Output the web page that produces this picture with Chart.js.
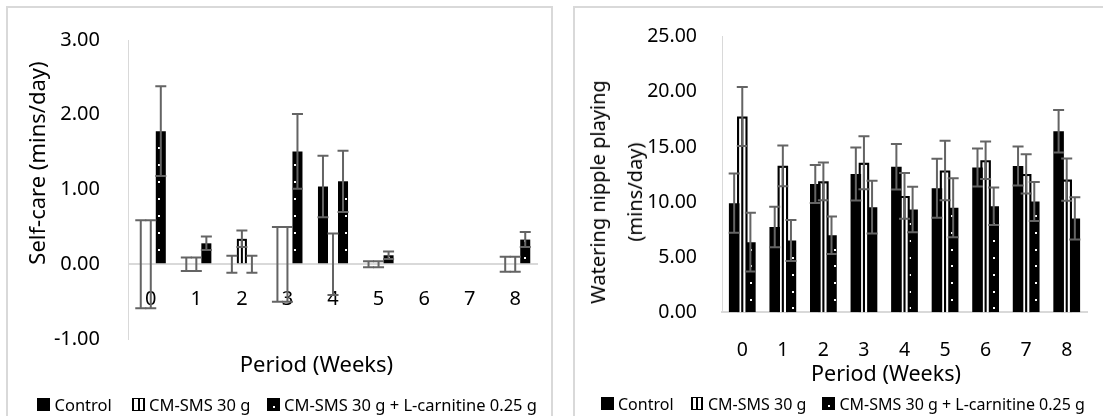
<!DOCTYPE html>
<html>
<head>
<meta charset="utf-8">
<script src="https://cdn.jsdelivr.net/npm/chart.js@4.4.1/dist/chart.umd.min.js"></script>
<style>
html,body{margin:0;padding:0;background:#fff;width:1103px;height:416px;overflow:hidden;font-family:"Noto Sans",sans-serif;color:#000}
.panel{position:absolute;border:2px solid #d9d9d9;box-sizing:border-box;background:#fff}
canvas{position:absolute;top:0}
.t{position:absolute;white-space:nowrap;line-height:1;color:#000}
.c{transform:translate(-50%,-50%)}
.lg{transform:translateY(-50%);font-size:16.5px}
.ic{position:absolute;box-sizing:border-box}
.solid{background:#000}
.strp{background:linear-gradient(to right,#000 0,#000 15%,#fff 15%,#fff 45%,#000 45%,#000 60%,#fff 60%,#fff 85%,#000 85%);border-top:1.5px solid #000;border-bottom:1.5px solid #000}
.dots{background:#000}
.dots i{position:absolute;width:2px;height:2px;background:#fff;left:6px;top:8px}
</style>
</head>
<body>
<div class="panel" style="left:6px;top:6px;width:547px;height:430px"></div>
<div class="panel" style="left:573px;top:6px;width:560px;height:430px"></div>
<canvas id="c1" width="553" height="416" style="left:0"></canvas>
<canvas id="c2" width="550" height="416" style="left:553px"></canvas>

<div class="t c" style="left:36px;top:163px;font-size:22px;transform:translate(-50%,-50%) rotate(-90deg)">Self-care (mins/day)</div>
<div class="t c" style="left:316.5px;top:363px;font-size:22px">Period (Weeks)</div>

<div class="t c" style="left:615.5px;top:192px;font-size:20px;line-height:37px;text-align:center;transform:translate(-50%,-50%) rotate(-90deg)">Watering nipple playing<br>(mins/day)</div>
<div class="t c" style="left:886px;top:373px;font-size:21.5px">Period (Weeks)</div>

<div class="ic solid" style="left:37px;top:398px;width:13px;height:13px"></div>
<div class="t lg" style="left:54.5px;top:404.5px">Control</div>
<div class="ic strp" style="left:132px;top:398px;width:13px;height:13px"></div>
<div class="t lg" style="left:149px;top:404.5px">CM-SMS 30 g</div>
<div class="ic dots" style="left:267px;top:398px;width:13px;height:13px"><i></i></div>
<div class="t lg" style="left:284px;top:404.5px">CM-SMS 30 g + L-carnitine 0.25 g</div>

<div class="ic solid" style="left:601px;top:397px;width:12.5px;height:12.5px"></div>
<div class="t lg" style="left:618px;top:403.5px;font-size:16px">Control</div>
<div class="ic strp" style="left:690.5px;top:397px;width:12.5px;height:12.5px"></div>
<div class="t lg" style="left:708px;top:403.5px;font-size:16px">CM-SMS 30 g</div>
<div class="ic dots" style="left:822px;top:397px;width:12.5px;height:12.5px"><i></i></div>
<div class="t lg" style="left:839.5px;top:403.5px;font-size:16px">CM-SMS 30 g + L-carnitine 0.25 g</div>

<script>
// ---------- data ----------
const categories = ['0','1','2','3','4','5','6','7','8'];
const seriesNames = ['Control', 'CM-SMS 30 g', 'CM-SMS 30 g + L-carnitine 0.25 g'];

// Self-care (mins/day)
const selfControl    = [0.00, 0.00, 0.00, 0.00, 1.04, 0.00, 0.00, 0.00, 0.00];
const selfControlErr = [0.59, 0.09, 0.115, 0.50, 0.41, 0.04, 0, 0, 0.10];
const selfCms        = [0.00, 0.00, 0.34, 0.00, 0.00, 0.00, 0.00, 0.00, 0.00];
const selfCmsErr     = [0.59, 0.09, 0.11, 0.50, 0.41, 0.04, 0, 0, 0.10];
const selfCarn       = [1.78, 0.28, 0.00, 1.51, 1.11, 0.12, 0.00, 0.00, 0.33];
const selfCarnErr    = [0.60, 0.09, 0.115, 0.50, 0.41, 0.05, 0, 0, 0.10];
const selfTicks      = [-1, 0, 1, 2, 3];

// Watering nipple playing (mins/day)
const waterControl    = [9.90, 7.74, 11.64, 12.54, 13.20, 11.25, 13.14, 13.28, 16.42];
const waterControlErr = [2.68, 1.83, 1.72, 2.40, 2.06, 2.68, 1.72, 1.77, 1.93];
const waterCms        = [17.76, 13.29, 11.88, 13.56, 10.56, 12.87, 13.80, 12.55, 12.04];
const waterCmsErr     = [2.67, 1.85, 1.71, 2.40, 2.07, 2.70, 1.70, 1.78, 1.92];
const waterCarn       = [6.36, 6.51, 6.99, 9.54, 9.33, 9.48, 9.63, 10.06, 8.52];
const waterCarnErr    = [2.67, 1.86, 1.71, 2.40, 2.06, 2.68, 1.70, 1.77, 1.92];
const waterTicks      = [0, 5, 10, 15, 20, 25];

const FONT = '"Noto Sans", sans-serif';

// ---------- plugins ----------
const barPatterns = {
  id: 'barPatterns',
  afterDatasetDraw(chart, args, opts) {
    const ds = chart.data.datasets[args.index];
    const ctx = chart.ctx;
    ctx.save();
    ctx.fillStyle = '#ffffff';
    args.meta.data.forEach(bar => {
      const p = bar.getProps(['x', 'y', 'base', 'width'], true);
      const top = Math.min(p.y, p.base), bot = Math.max(p.y, p.base);
      if (bot - top < 1) return;
      const w = p.width, x0 = p.x - w / 2, x1 = p.x + w / 2;
      if (ds.kind === 'stripes') {
        const t = top + 0.2 * w;
        if (bot - t > 0) {
          ctx.fillRect(x0 + 0.2 * w, t, 0.2 * w, bot - t);
          ctx.fillRect(x0 + 0.6 * w, t, 0.2 * w, bot - t);
        }
      } else if (ds.kind === 'dots') {
        const P = opts.period, ox = opts.ox, oy = opts.oy;
        for (let k = 0; k < 2; k++) {
          const off = k * P / 2;
          const iMin = Math.ceil((x0 - ox - off) / P), iMax = Math.floor((x1 - ox - off) / P);
          const jMin = Math.ceil((top - oy - off) / P), jMax = Math.floor((bot - oy - off) / P);
          for (let i = iMin; i <= iMax; i++) {
            for (let j = jMin; j <= jMax; j++) {
              const px = ox + off + i * P, py = oy + off + j * P;
              if (px - 1 >= x0 + 1 && px + 1 <= x1 - 1 && py - 1 >= top + 0.5 && py + 1 <= bot - 1) {
                ctx.fillRect(Math.round(px) - 1, Math.round(py) - 1, 2, 2);
              }
            }
          }
        }
      }
    });
    ctx.restore();
  }
};

const errorBars = {
  id: 'errorBars',
  afterDatasetsDraw(chart, args, opts) {
    const ctx = chart.ctx;
    const yScale = chart.scales.y;
    ctx.save();
    ctx.strokeStyle = opts.color;
    ctx.lineWidth = opts.width;
    chart.data.datasets.forEach((ds, di) => {
      const meta = chart.getDatasetMeta(di);
      meta.data.forEach((bar, i) => {
        const e = ds.errors[i];
        if (!e) return;
        const v = ds.data[i];
        const yt = yScale.getPixelForValue(v + e);
        const yb = yScale.getPixelForValue(v - e);
        const x = bar.x, hw = opts.cap / 2;
        ctx.beginPath();
        ctx.moveTo(x, yt); ctx.lineTo(x, yb);
        ctx.moveTo(x - hw, yt); ctx.lineTo(x + hw, yt);
        ctx.moveTo(x - hw, yb); ctx.lineTo(x + hw, yb);
        ctx.stroke();
      });
    });
    ctx.restore();
  }
};

function datasets(c, ce, m, me, k, ke) {
  return [
    { label: seriesNames[0], data: c, errors: ce, backgroundColor: '#000', borderWidth: 0, kind: 'solid' },
    { label: seriesNames[1], data: m, errors: me, backgroundColor: '#000', borderWidth: 0, kind: 'stripes' },
    { label: seriesNames[2], data: k, errors: ke, backgroundColor: '#000', borderWidth: 0, kind: 'dots' }
  ];
}

// ---------- left chart: Self-care ----------
new Chart(document.getElementById('c1'), {
  type: 'bar',
  data: { labels: categories, datasets: datasets(selfControl, selfControlErr, selfCms, selfCmsErr, selfCarn, selfCarnErr) },
  options: {
    responsive: false, animation: false, devicePixelRatio: 1,
    layout: { padding: { left: 0, right: 15, top: 36.5, bottom: 77 } },
    datasets: { bar: { categoryPercentage: 0.66, barPercentage: 1 } },
    plugins: {
      legend: { display: false }, tooltip: { enabled: false },
      errorBars: { color: '#646464', width: 2, cap: 11 },
      barPatterns: { period: 17, ox: 159, oy: 249.7 }
    },
    scales: {
      x: {
        position: { y: 0 },
        grid: { display: false, drawTicks: false }, border: { display: false },
        ticks: { color: '#000', font: { family: FONT, size: 20 }, padding: 23.5, maxRotation: 0 },
        afterFit(s) { s.height = 0; }
      },
      y: {
        min: selfTicks[0], max: selfTicks[selfTicks.length - 1],
        afterBuildTicks(s) { s.ticks = selfTicks.map(v => ({ value: v })); },
        ticks: { color: '#000', font: { family: FONT, size: 20 }, padding: 28, callback: v => Number(v).toFixed(2) },
        grid: { drawTicks: false, color: c => (c.tick && c.tick.value === 0) ? '#d9d9d9' : 'rgba(0,0,0,0)', lineWidth: 2 },
        border: { display: true, color: '#d9d9d9', width: 1 },
        afterFit(s) { s.width = 128; }
      }
    }
  },
  plugins: [barPatterns, errorBars]
});

// ---------- right chart: Watering nipple playing ----------
new Chart(document.getElementById('c2'), {
  type: 'bar',
  data: { labels: categories, datasets: datasets(waterControl, waterControlErr, waterCms, waterCmsErr, waterCarn, waterCarnErr) },
  options: {
    responsive: false, animation: false, devicePixelRatio: 1,
    layout: { padding: { left: 0, right: 16, top: 34.6, bottom: 0 } },
    datasets: { bar: { categoryPercentage: 0.6, barPercentage: 1.3 } },
    plugins: {
      legend: { display: false }, tooltip: { enabled: false },
      errorBars: { color: '#646464', width: 2, cap: 11 },
      barPatterns: { period: 16.8, ox: 197.7, oy: 300 }
    },
    scales: {
      x: {
        grid: { display: false, drawTicks: false },
        border: { display: true, color: '#d9d9d9', width: 2 },
        ticks: { color: '#000', font: { family: FONT, size: 19.5 }, padding: 26, maxRotation: 0 },
        afterFit(s) { s.height = 103.7; }
      },
      y: {
        min: waterTicks[0], max: waterTicks[waterTicks.length - 1],
        afterBuildTicks(s) { s.ticks = waterTicks.map(v => ({ value: v })); },
        ticks: { color: '#000', font: { family: FONT, size: 19.5 }, padding: 25, callback: v => Number(v).toFixed(2) },
        grid: { display: false, drawTicks: false },
        border: { display: true, color: '#d9d9d9', width: 1 },
        afterFit(s) { s.width = 169; }
      }
    }
  },
  plugins: [barPatterns, errorBars]
});
</script>
</body>
</html>
